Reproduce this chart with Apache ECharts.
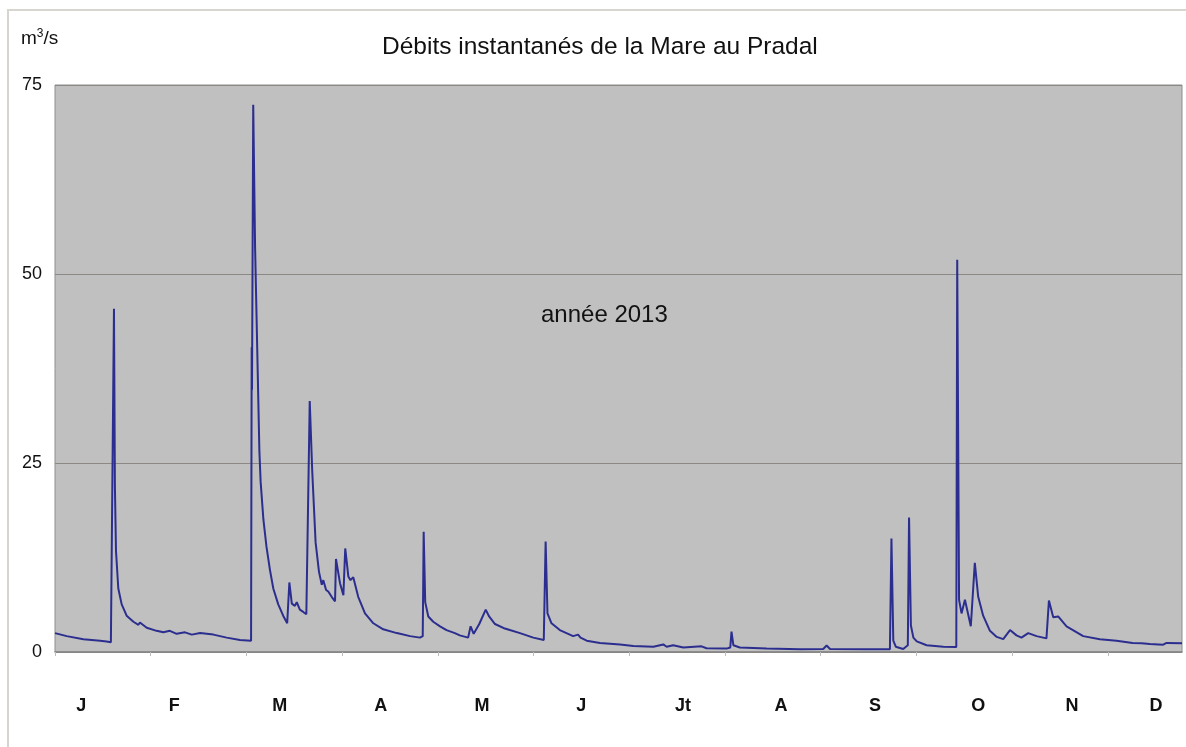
<!DOCTYPE html>
<html>
<head>
<meta charset="utf-8">
<script src="https://cdn.jsdelivr.net/npm/echarts@6/dist/echarts.min.js"></script>
<style>
  html, body { margin: 0; padding: 0; background: #fff; }
  #chart { width: 1186px; height: 747px; }
</style>
</head>
<body>
<div id="chart"></div>
<script>
// jour de l'année (0 = 1er janvier) et débit en m3/s
const days = [
  0, 3.8, 9.2, 14.6, 16.7, 18.1, 18.6, 19.1, 19.4, 19.75, 20.5, 21.6, 23.2, 25.4, 27.0, 27.5, 29.7, 32.9,
  35.1, 37.2, 39.4, 42.1, 44.3, 47, 51.3, 55.6, 59.9, 63.5, 63.7, 63.8, 64.2, 64.8, 66.2, 66.6, 67.5,
  68.5, 69.6, 70.7, 72.3, 73.9, 75.2, 75.9, 76.7, 77.7, 78.3, 79.3, 80.4, 81.4, 82.5, 83.3, 84.4, 85.5,
  86.4, 86.9, 87.8, 88.5, 89.6, 90.7, 91.0, 92.3, 93.4, 94.0, 95.0, 95.7, 96.6, 98.2, 100.4, 103.1,
  106.3, 110.7, 115, 118.2, 119.1, 119.4, 119.9, 120.9, 122.5, 124.7, 126.8, 129.5, 131.1, 133.8,
  134.6, 135.6, 137.4, 139.5, 140.6, 142.5, 145.7, 147.3, 150.6, 154.9, 158.3, 158.9, 159.5, 160.8,
  163.5, 167.8, 169.4, 170.2, 172.2, 176.5, 183, 187.3, 193.8, 197, 198.1, 200.2, 203.5, 209.4, 211,
  217.5, 218.7, 219.1, 219.7, 221.8, 230.5, 241.3, 248.8, 249.9, 251, 262.9, 270.4, 270.9, 271.5,
  272.3, 274.7, 276.2, 276.6, 277.2, 278, 279.1, 282.3, 287.7, 291.9, 292.2, 292.8, 293.6, 294.7,
  296.6, 297.9, 299, 300.6, 302.8, 305, 307.1, 309.3, 311.4, 313, 315.2, 317.9, 321.1, 321.9, 323.3,
  324.9, 327.6, 333, 338.4, 343.8, 349, 351.9, 354.6, 358.9, 360, 365
];
const flows = [
  2.5, 2.1, 1.7, 1.5, 1.4, 1.3, 1.4, 45.4, 22, 13.4, 8.4, 6.3, 4.8, 4.0, 3.6, 3.9, 3.2, 2.8,
  2.6, 2.8, 2.4, 2.6, 2.3, 2.5, 2.3, 1.9, 1.6, 1.5, 40.3, 34.7, 72.4, 53.6, 26.5, 22.5, 17.5,
  13.9, 10.9, 8.4, 6.3, 4.8, 3.8, 9.2, 6.4, 6.1, 6.6, 5.6, 5.3, 5.0, 33.2, 24, 14.5, 10.6,
  8.9, 9.5, 8.2, 8.0, 7.3, 6.7, 12.3, 9.1, 7.5, 13.7, 10.0, 9.5, 9.9, 7.3, 5.1, 3.8,
  3.0, 2.5, 2.1, 1.9, 2.1, 15.9, 6.6, 4.7, 4.0, 3.4, 2.9, 2.5, 2.2, 1.9,
  3.4, 2.4, 3.7, 5.6, 4.7, 3.7, 3.1, 2.9, 2.5, 1.9, 1.6, 14.6, 5.1, 3.8,
  2.9, 2.1, 2.3, 1.9, 1.5, 1.2, 1.0, 0.8, 0.7, 1.0, 0.7, 0.9, 0.6, 0.75, 0.5,
  0.45, 0.6, 2.7, 0.9, 0.6, 0.45, 0.35, 0.4, 0.85, 0.4, 0.35, 0.35, 15.0, 1.5,
  0.7, 0.4, 0.9, 17.8, 3.5, 1.9, 1.4, 0.9, 0.7, 0.65, 51.9, 6.9, 5.1, 6.9,
  3.4, 11.8, 7.3, 4.8, 2.8, 2.0, 1.7, 2.9, 2.2, 1.9, 2.5, 2.1, 1.8, 6.8, 4.6,
  4.7, 3.4, 2.1, 1.7, 1.5, 1.2, 1.15, 1.05, 0.97, 1.2, 1.15
];
// graduations
const monthTicks = [0, 31, 62, 93, 124, 155, 186, 217, 248, 279, 310, 341];
const monthLabels = ['J', 'F', 'M', 'A', 'M', 'J', 'Jt', 'A', 'S', 'O', 'N', 'D'];
const monthLabelDays = [8.5, 38.6, 72.8, 105.5, 138.3, 170.4, 203.4, 235.1, 265.6, 299, 329.4, 356.6];
const yTicks = [0, 25, 50, 75];

const font = '"Liberation Sans", Arial, sans-serif';
const chart = echarts.init(document.getElementById('chart'));

chart.setOption({
  animation: false,
  backgroundColor: '#ffffff',
  grid: {
    left: 55, top: 85, width: 1127, height: 567,
    show: true,
    backgroundColor: '#c0c0c0',
    borderColor: '#8e8e8e',
    borderWidth: 1
  },
  xAxis: {
    type: 'value',
    min: 0,
    max: 365,
    axisLine: { show: true, lineStyle: { color: '#858585', width: 1.5 } },
    axisTick: { show: true, customValues: monthTicks, length: 4, lineStyle: { color: '#bdbdbd' } },
    splitLine: { show: false },
    axisLabel: {
      customValues: monthLabelDays,
      margin: 45,
      fontFamily: font,
      fontSize: 18,
      fontWeight: 'bold',
      color: '#111',
      formatter: (v) => monthLabels[monthLabelDays.indexOf(v)]
    }
  },
  yAxis: {
    type: 'value',
    min: yTicks[0],
    max: yTicks[yTicks.length - 1],
    interval: 25,
    axisLine: { show: false },
    axisTick: { show: false },
    splitLine: { show: true, lineStyle: { color: '#8c8884', width: 1.2 } },
    axisLabel: { margin: 13, fontFamily: font, fontSize: 18, color: '#111' }
  },
  series: [{
    type: 'line',
    data: days.map((d, i) => [d, flows[i]]),
    showSymbol: false,
    lineStyle: { color: '#2b2e8e', width: 2 },
    z: 3
  }],
  graphic: [
    {
      type: 'rect', z: -1, silent: true,
      shape: { x: 8, y: 10, width: 1200, height: 800 },
      style: { fill: 'none', stroke: '#d8d5d1', lineWidth: 2 }
    },
    {
      type: 'text', x: 382, y: 47,
      style: { text: 'Débits instantanés de la Mare au Pradal', font: '24.5px ' + font, fill: '#111', verticalAlign: 'middle' }
    },
    {
      type: 'text', x: 21, y: 38,
      style: {
        text: '{a|m}{b|3}{a|/s}',
        verticalAlign: 'middle',
        rich: {
          a: { font: '19px ' + font, fill: '#111', verticalAlign: 'bottom' },
          b: { font: '12px ' + font, fill: '#111', verticalAlign: 'top', padding: [0, 0, 9, 0] }
        }
      }
    },
    {
      type: 'text', x: 541, y: 315,
      style: { text: 'année 2013', font: '24px ' + font, fill: '#111', verticalAlign: 'middle' }
    }
  ]
});
</script>
</body>
</html>
